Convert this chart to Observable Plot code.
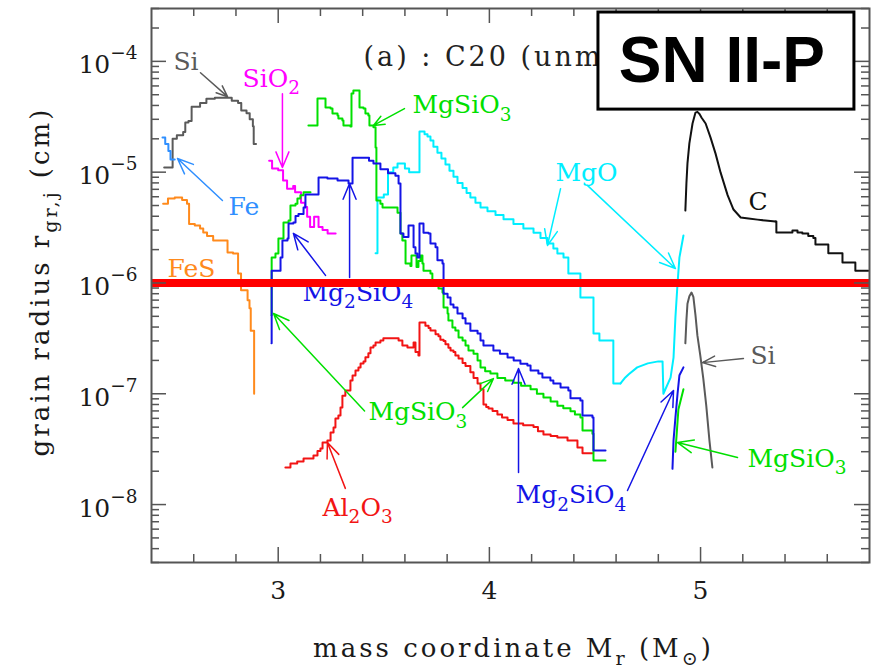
<!DOCTYPE html>
<html><head><meta charset="utf-8">
<script src="https://cdn.jsdelivr.net/npm/d3@7"></script>
<script src="https://cdn.jsdelivr.net/npm/@observablehq/plot@0.6"></script>
<style>
body{margin:0;background:#fff;}
#chart{width:875px;height:671px;}
</style></head><body><div id="chart"></div>
<script>
// ---------- axis ticks ----------
const xMajor = [3, 4, 5];
const xTickLabels = ["3", "4", "5"];
const xMinor = [2.6, 2.8, 3.2, 3.4, 3.6, 3.8, 4.2, 4.4, 4.6, 4.8, 5.2, 5.4, 5.6];
const yMajor = [1e-8, 1e-7, 1e-6, 1e-5, 1e-4];
const yTickLabels = ["10^{−8}", "10^{−7}", "10^{−6}", "10^{−5}", "10^{−4}"];
const yMinor = [];
for (let e = -9; e <= -4; e++) for (let m = 2; m <= 9; m++) { const v = m * Math.pow(10, e); if (v >= 3e-9 && v <= 3.01e-4) yMinor.push(v); }

// ---------- series: [mass coordinate, grain radius] ----------
const Si_inner = [[2.460,1.1e-5],[2.500,2.0e-5],[2.520,2.15e-5],[2.550,2.3e-5],[2.560,2.8e-5],[2.575,2.9e-5],[2.590,3.9e-5],[2.630,4.2e-5],[2.660,4.6e-5],[2.700,4.7e-5],[2.760,4.7e-5],[2.780,4.4e-5],[2.810,4.2e-5],[2.825,3.6e-5],[2.850,3.4e-5],[2.865,3.0e-5],[2.880,2.6e-5],[2.884,1.8e-5],[2.895,1.8e-5]];
const Fe = [[2.452,2.05e-5],[2.465,1.8e-5],[2.480,1.55e-5],[2.490,1.3e-5],[2.510,1.3e-5]];
const FeS = [[2.455,5.2e-6],[2.478,5.8e-6],[2.510,5.9e-6],[2.545,5.6e-6],[2.568,5.2e-6],[2.578,3.4e-6],[2.605,3.3e-6],[2.630,3.1e-6],[2.645,2.85e-6],[2.663,2.65e-6],[2.692,2.42e-6],[2.760,1.88e-6],[2.786,1.84e-6],[2.810,1.22e-6],[2.824,8.6e-7],[2.855,7.0e-7],[2.864,5.9e-7],[2.870,3.7e-7],[2.886,1.0e-7]];
const SiO2 = [[2.957,1.27e-5],[2.971,1.08e-5],[3.000,1.04e-5],[3.023,8.4e-6],[3.042,7.1e-6],[3.071,7.5e-6],[3.080,6.6e-6],[3.108,5.3e-6],[3.127,4.85e-6],[3.137,3.95e-6],[3.151,3.2e-6],[3.170,3.95e-6],[3.191,3.2e-6],[3.210,3.0e-6],[3.234,2.8e-6],[3.272,2.8e-6]];
const MgSiO3_rise = [[2.968,5.1e-7],[2.969,1.7e-6],[2.987,1.84e-6],[3.001,2.52e-6],[3.025,3.51e-6],[3.049,3.66e-6],[3.058,5.0e-6],[3.082,5.2e-6],[3.091,5.78e-6],[3.105,6.2e-6],[3.120,6.6e-6],[3.153,6.6e-6]];
const MgSiO3_main = [[3.143,2.64e-5],[3.186,4.62e-5],[3.224,3.83e-5],[3.248,3.75e-5],[3.257,3.38e-5],[3.281,3.24e-5],[3.285,3.05e-5],[3.304,2.92e-5],[3.309,2.64e-5],[3.342,2.58e-5],[3.347,5.13e-5],[3.356,5.46e-5],[3.385,3.83e-5],[3.404,3.75e-5],[3.413,3.38e-5],[3.427,3.24e-5],[3.432,2.64e-5],[3.451,2.54e-5],[3.461,1.67e-5],[3.465,5.55e-6],[3.484,5.2e-6],[3.494,4.8e-6],[3.565,4.3e-6],[3.579,2.8e-6],[3.588,2.42e-6],[3.603,1.5e-6],[3.626,1.42e-6],[3.631,1.77e-6],[3.655,1.39e-6],[3.664,1.58e-6],[3.674,1.77e-6],[3.683,1.5e-6],[3.688,1.29e-6],[3.721,1.22e-6],[3.730,1.05e-6],[3.754,9.9e-7],[3.759,8.9e-7],[3.778,8.2e-7],[3.783,6.0e-7],[3.802,5.3e-7],[3.806,4.58e-7],[3.825,3.96e-7],[3.839,3.72e-7],[3.854,3.22e-7],[3.873,3.03e-7],[3.887,2.72e-7],[3.901,2.46e-7],[3.925,2.3e-7],[3.944,2.0e-7],[3.958,1.73e-7],[3.980,1.6e-7],[4.005,1.52e-7],[4.038,1.39e-7],[4.075,1.32e-7],[4.114,1.26e-7],[4.150,1.18e-7],[4.195,1.1e-7],[4.225,1.0e-7],[4.256,9.25e-8],[4.290,8.5e-8],[4.322,7.8e-8],[4.350,7.4e-8],[4.384,6.97e-8],[4.405,6.5e-8],[4.431,6.1e-8],[4.441,4.66e-8],[4.488,4.35e-8],[4.493,2.5e-8],[4.550,2.5e-8]];
const MgSiO3_outer = [[4.881,3.0e-8],[4.895,7.2e-8],[4.919,1.1e-7]];
const Mg2SiO4_main = [[2.968,2.85e-7],[2.969,1.29e-6],[3.011,1.7e-6],[3.020,2.42e-6],[3.044,2.52e-6],[3.049,3.44e-6],[3.072,3.51e-6],[3.082,4.02e-6],[3.096,4.2e-6],[3.120,4.8e-6],[3.129,6.3e-6],[3.191,8.95e-6],[3.233,8.75e-6],[3.281,8.4e-6],[3.333,7.9e-6],[3.352,1.35e-5],[3.430,1.27e-5],[3.451,1.2e-5],[3.484,1.06e-5],[3.520,9.8e-6],[3.555,9.3e-6],[3.570,7.9e-6],[3.579,2.8e-6],[3.593,2.6e-6],[3.617,3.3e-6],[3.641,2.1e-6],[3.650,1.84e-6],[3.659,1.7e-6],[3.669,3.44e-6],[3.688,2.84e-6],[3.712,2.8e-6],[3.721,2.27e-6],[3.745,2.1e-6],[3.754,1.6e-6],[3.778,1.5e-6],[3.783,8.0e-7],[3.802,7.4e-7],[3.816,6.4e-7],[3.830,6.0e-7],[3.849,5.3e-7],[3.873,4.8e-7],[3.887,4.3e-7],[3.910,3.7e-7],[3.944,3.5e-7],[3.958,3.03e-7],[3.972,2.72e-7],[4.019,2.46e-7],[4.050,2.3e-7],[4.086,2.12e-7],[4.115,2.0e-7],[4.147,1.87e-7],[4.180,1.8e-7],[4.195,1.62e-7],[4.232,1.52e-7],[4.251,1.4e-7],[4.289,1.32e-7],[4.303,1.24e-7],[4.337,1.14e-7],[4.374,1.07e-7],[4.384,9.1e-8],[4.431,8.7e-8],[4.441,6.35e-8],[4.488,6.1e-8],[4.493,3.08e-8],[4.550,3.08e-8]];
const Mg2SiO4_outer = [[4.867,2.1e-8],[4.872,3.8e-8],[4.881,6.1e-8],[4.891,1.0e-7],[4.900,1.47e-7],[4.919,1.73e-7]];
const Al2O3 = [[3.034,2.16e-8],[3.058,2.35e-8],[3.090,2.45e-8],[3.120,2.6e-8],[3.167,2.77e-8],[3.186,3.05e-8],[3.200,3.2e-8],[3.210,3.63e-8],[3.233,3.79e-8],[3.248,4.47e-8],[3.262,4.95e-8],[3.271,5.97e-8],[3.285,6.35e-8],[3.295,7.5e-8],[3.304,9.6e-8],[3.318,1.07e-7],[3.342,1.32e-7],[3.352,1.46e-7],[3.366,1.62e-7],[3.380,1.73e-7],[3.390,1.88e-7],[3.404,1.96e-7],[3.413,2.14e-7],[3.427,2.32e-7],[3.437,2.61e-7],[3.451,2.73e-7],[3.461,2.9e-7],[3.484,3.03e-7],[3.498,3.17e-7],[3.570,3.03e-7],[3.588,2.73e-7],[3.612,2.61e-7],[3.641,2.9e-7],[3.650,2.38e-7],[3.664,2.22e-7],[3.669,4.4e-7],[3.697,4.1e-7],[3.712,3.92e-7],[3.721,3.72e-7],[3.745,3.45e-7],[3.759,3.3e-7],[3.768,3.08e-7],[3.783,3.0e-7],[3.792,2.8e-7],[3.806,2.6e-7],[3.816,2.46e-7],[3.830,2.38e-7],[3.839,2.22e-7],[3.854,2.08e-7],[3.873,1.9e-7],[3.887,1.78e-7],[3.910,1.56e-7],[3.925,1.39e-7],[3.944,1.24e-7],[3.958,1.1e-7],[3.972,8.0e-8],[3.985,7.6e-8],[3.996,7.35e-8],[4.015,7.0e-8],[4.038,6.5e-8],[4.060,6.1e-8],[4.086,5.8e-8],[4.114,5.4e-8],[4.160,5.2e-8],[4.209,5.0e-8],[4.230,4.6e-8],[4.256,4.3e-8],[4.290,4.15e-8],[4.322,4.03e-8],[4.370,3.79e-8],[4.417,3.27e-8],[4.441,2.9e-8],[4.488,2.9e-8]];
const MgO_main = [[3.461,1.85e-6],[3.470,5.9e-6],[3.500,6.3e-6],[3.520,1.0e-5],[3.545,1.1e-5],[3.565,1.2e-5],[3.600,1.08e-5],[3.620,1.0e-5],[3.669,2.33e-5],[3.693,2.2e-5],[3.707,2.1e-5],[3.721,1.93e-5],[3.735,1.7e-5],[3.754,1.5e-5],[3.773,1.33e-5],[3.792,1.17e-5],[3.811,1.03e-5],[3.830,9.1e-6],[3.849,8.0e-6],[3.873,7.2e-6],[3.892,6.5e-6],[3.910,5.9e-6],[3.934,5.3e-6],[3.958,4.8e-6],[3.991,4.45e-6],[4.029,4.1e-6],[4.067,3.75e-6],[4.114,3.4e-6],[4.161,3.1e-6],[4.209,2.84e-6],[4.242,2.55e-6],[4.275,2.27e-6],[4.303,2.05e-6],[4.322,1.84e-6],[4.351,1.7e-6],[4.374,1.22e-6],[4.431,7.4e-7],[4.493,3.5e-7],[4.521,3.03e-7],[4.587,1.24e-7],[4.621,1.24e-7]];
const MgO_outer = [[4.621,1.24e-7],[4.640,1.38e-7],[4.660,1.5e-7],[4.700,1.73e-7],[4.750,1.88e-7],[4.800,1.96e-7],[4.820,1.96e-7],[4.824,1.0e-7],[4.858,1.4e-7],[4.872,2.12e-7],[4.881,4.9e-7],[4.891,9.9e-7],[4.900,1.7e-6],[4.919,2.68e-6]];
const C_peak = [[4.928,4.5e-6],[4.933,7.9e-6],[4.938,1.2e-5],[4.947,1.82e-5],[4.962,2.75e-5],[4.976,3.45e-5],[4.985,3.5e-5],[4.995,3.35e-5],[5.005,3.1e-5],[5.024,2.75e-5],[5.047,2.06e-5],[5.071,1.47e-5],[5.095,9.9e-6],[5.128,6.2e-6],[5.156,4.6e-6],[5.190,3.9e-6],[5.227,3.82e-6],[5.270,3.73e-6],[5.307,3.66e-6],[5.355,3.58e-6]];
const C_tail = [[5.355,3.58e-6],[5.359,2.85e-6],[5.435,2.98e-6],[5.459,2.85e-6],[5.482,2.79e-6],[5.510,2.65e-6],[5.534,2.55e-6],[5.544,2.22e-6],[5.605,1.85e-6],[5.672,1.53e-6],[5.733,1.29e-6],[5.795,1.29e-6]];
const Si_outer = [[4.928,2.85e-7],[4.933,4.6e-7],[4.938,6.5e-7],[4.947,7.6e-7],[4.957,8.2e-7],[4.966,7.5e-7],[4.976,5.1e-7],[4.985,3.36e-7],[4.999,2.2e-7],[5.013,1.37e-7],[5.027,7.8e-8],[5.042,3.8e-8],[5.056,2.16e-8]];

const colors = {Si:"#5a5a5a", Fe:"#2f8fff", FeS:"#ff8a1c", SiO2:"#ff00ff", MgSiO3:"#00e000", Mg2SiO4:"#1414e6", Al2O3:"#f21414", MgO:"#00eeff", C:"#111111"};

const stepSeries = [["Si",Si_inner],["Fe",Fe],["FeS",FeS],["SiO2",SiO2],["MgO",MgO_main],["Al2O3",Al2O3],["MgSiO3",MgSiO3_rise],["MgSiO3",MgSiO3_main],["Mg2SiO4",Mg2SiO4_main],["C",C_tail]];
const smoothSeries = [["MgO",MgO_outer],["Si",Si_outer],["C",C_peak],["Mg2SiO4",Mg2SiO4_outer],["MgSiO3",MgSiO3_outer]];

// ---------- annotations ----------
const labels = [
  {t:"Si", x:2.504, y:9.8e-5, c:"Si"},
  {t:"SiO_{2}", x:2.831, y:7.0e-5, c:"SiO2"},
  {t:"Fe", x:2.765, y:4.8e-6, c:"Fe"},
  {t:"FeS", x:2.476, y:1.35e-6, c:"FeS"},
  {t:"MgSiO_{3}", x:3.636, y:4.0e-5, c:"MgSiO3"},
  {t:"MgO", x:4.313, y:9.9e-6, c:"MgO"},
  {t:"C", x:5.227, y:5.4e-6, c:"C"},
  {t:"Mg_{2}SiO_{4}", x:3.115, y:8.2e-7, c:"Mg2SiO4"},
  {t:"MgSiO_{3}", x:3.427, y:6.8e-8, c:"MgSiO3"},
  {t:"Al_{2}O_{3}", x:3.21, y:9.4e-9, c:"Al2O3"},
  {t:"Mg_{2}SiO_{4}", x:4.124, y:1.21e-8, c:"Mg2SiO4"},
  {t:"Si", x:5.236, y:2.17e-7, c:"Si"},
  {t:"MgSiO_{3}", x:5.222, y:2.6e-8, c:"MgSiO3"}
];
const arrows = [
  {x1:2.632, y1:7.9e-5, x2:2.760, y2:4.8e-5, c:"Si"},
  {x1:3.020, y1:5.1e-5, x2:3.020, y2:1.1e-5, c:"SiO2"},
  {x1:2.736, y1:5.55e-6, x2:2.523, y2:1.33e-5, c:"Fe"},
  {x1:3.598, y1:3.75e-5, x2:3.451, y2:2.64e-5, c:"MgSiO3"},
  {x1:4.337, y1:7.1e-6, x2:4.275, y2:2.18e-6, c:"MgO"},
  {x1:4.464, y1:7.6e-6, x2:4.881, y2:1.35e-6, c:"MgO"},
  {x1:3.224, y1:1.17e-6, x2:3.072, y2:2.8e-6, c:"Mg2SiO4"},
  {x1:3.338, y1:1.12e-6, x2:3.338, y2:7.9e-6, c:"Mg2SiO4"},
  {x1:3.409, y1:7.0e-8, x2:2.978, y2:5.3e-7, c:"MgSiO3"},
  {x1:3.873, y1:7.5e-8, x2:4.019, y2:1.37e-7, c:"MgSiO3"},
  {x1:3.318, y1:1.4e-8, x2:3.233, y2:3.63e-8, c:"Al2O3"},
  {x1:4.138, y1:1.95e-8, x2:4.138, y2:1.69e-7, c:"Mg2SiO4"},
  {x1:4.654, y1:1.34e-8, x2:4.872, y2:1.07e-7, c:"Mg2SiO4"},
  {x1:5.203, y1:2.08e-7, x2:5.009, y2:1.91e-7, c:"Si"},
  {x1:5.175, y1:2.66e-8, x2:4.891, y2:3.63e-8, c:"MgSiO3"}
];
// visible part of the panel title (the rest is hidden behind the SN II-P badge)
const titleText = [{t:"(a) : C20 (unm", x:3.404, y:1.08e-4}];
const threshold = [1e-6];
const badge = [{t:"SN II-P", x1:4.5165, x2:5.7286, y1:3.67e-5, y2:2.76e-4, tx:5.101, ty:1.0e-4}];

const FONT = "DejaVu Serif";
const AX = "#555";
const W = 718, H = 554;

const marks = [];
for (const [name, pts] of stepSeries)
  marks.push(Plot.line(pts, {x: d => d[0], y: d => d[1], stroke: colors[name], strokeWidth: 2, curve: "step-after"}));
for (const [name, pts] of smoothSeries)
  marks.push(Plot.line(pts, {x: d => d[0], y: d => d[1], stroke: colors[name], strokeWidth: 2, curve: "linear"}));
marks.push(Plot.arrow(arrows, {x1:"x1", y1:"y1", x2:"x2", y2:"y2", stroke: d => colors[d.c], strokeWidth: 1.5, headLength: 17, headAngle: 45}));
marks.push(Plot.text(labels, {x:"x", y:"y", text:"t", fill: d => colors[d.c], textAnchor:"start", lineAnchor:"middle", fontFamily: FONT, fontSize: 25}));
marks.push(Plot.text(titleText, {x:"x", y:"y", text:"t", fill:"#222", textAnchor:"start", lineAnchor:"middle", fontFamily: FONT, fontSize: 27}));
marks.push(Plot.ruleY(threshold, {stroke:"#ff0000", strokeWidth: 8}));
// ticks (inward, all four sides)
marks.push(Plot.ruleX(xMajor, {stroke: AX, strokeWidth: 1.5, insetTop: H - 15}));
marks.push(Plot.ruleX(xMajor, {stroke: AX, strokeWidth: 1.5, insetBottom: H - 15}));
marks.push(Plot.ruleX(xMinor, {stroke: AX, strokeWidth: 1.5, insetTop: H - 8}));
marks.push(Plot.ruleX(xMinor, {stroke: AX, strokeWidth: 1.5, insetBottom: H - 8}));
marks.push(Plot.ruleY(yMajor, {stroke: AX, strokeWidth: 1.5, insetRight: W - 15}));
marks.push(Plot.ruleY(yMajor, {stroke: AX, strokeWidth: 1.5, insetLeft: W - 15}));
marks.push(Plot.ruleY(yMinor, {stroke: AX, strokeWidth: 1.5, insetRight: W - 8}));
marks.push(Plot.ruleY(yMinor, {stroke: AX, strokeWidth: 1.5, insetLeft: W - 8}));
marks.push(Plot.frame({stroke: AX, strokeWidth: 2}));
// tick labels
marks.push(Plot.text(yMajor, {y: d => d, frameAnchor: "left", text: (d, i) => yTickLabels[i], textAnchor: "end", lineAnchor: "middle", dx: -14, dy: 4, fontFamily: FONT, fontSize: 25, fill: "#1a1a1a"}));
marks.push(Plot.text(xMajor, {x: d => d, frameAnchor: "bottom", text: (d, i) => xTickLabels[i], textAnchor: "middle", lineAnchor: "middle", dy: 28, fontFamily: FONT, fontSize: 25, fill: "#1a1a1a"}));
// axis titles
marks.push(Plot.text(["mass coordinate M_{r} (M_{⊙})"], {frameAnchor: "bottom", text: d => d, textAnchor: "middle", lineAnchor: "middle", dy: 86, dx: 3, fontFamily: FONT, fontSize: 26, fill: "#1a1a1a"}));
marks.push(Plot.text(["grain radius r_{gr,j} (cm)"], {frameAnchor: "left", text: d => d, textAnchor: "middle", lineAnchor: "middle", rotate: -90, dx: -111, dy: -4, fontFamily: FONT, fontSize: 26, fill: "#1a1a1a"}));
// badge
marks.push(Plot.rect(badge, {x1:"x1", x2:"x2", y1:"y1", y2:"y2", fill:"white", stroke:"black", strokeWidth: 3}));
marks.push(Plot.text(badge, {x:"tx", y:"ty", text:"t", fontFamily:"Liberation Sans, Arial, sans-serif", fontWeight:"bold", fontSize: 64, fill:"black", textAnchor:"middle", lineAnchor:"middle"}));

const chart = Plot.plot({
  width: 875, height: 671,
  marginLeft: 151, marginRight: 6, marginTop: 8, marginBottom: 109,
  x: {domain: [2.4, 5.8], axis: null},
  y: {type: "log", domain: [3e-9, 3e-4], axis: null},
  marks
});
document.getElementById("chart").appendChild(chart);

// rich text: ^{..} superscript, _{..} subscript
(function richText(root){
  const NS = "http://www.w3.org/2000/svg";
  root.querySelectorAll("text").forEach(t => {
    const s = t.textContent;
    if (s.startsWith("mass") || s.startsWith("grain")) t.setAttribute("letter-spacing", "3");
    if (s.startsWith("(a)")) t.setAttribute("letter-spacing", "3");
    if (!/[\^_]\{/.test(s)) return;
    const fs = parseFloat(getComputedStyle(t).fontSize) || 24;
    const parts = s.split(/([\^_]\{[^}]*\})/).filter(p => p !== "");
    while (t.firstChild) t.removeChild(t.firstChild);
    let cur = 0;
    for (const p of parts) {
      let off = 0, txt = p, small = false;
      if (p.startsWith("^{")) { off = -0.56 * fs; txt = p.slice(2, -1); small = true; }
      else if (p.startsWith("_{")) { off = 0.3 * fs; txt = p.slice(2, -1); small = true; }
      const ts = document.createElementNS(NS, "tspan");
      if (off !== cur) ts.setAttribute("dy", (off - cur).toFixed(2));
      if (small) ts.setAttribute("font-size", (0.74 * fs).toFixed(1));
      ts.textContent = txt;
      t.appendChild(ts);
      cur = off;
    }
  });
})(chart);
</script></body></html>
